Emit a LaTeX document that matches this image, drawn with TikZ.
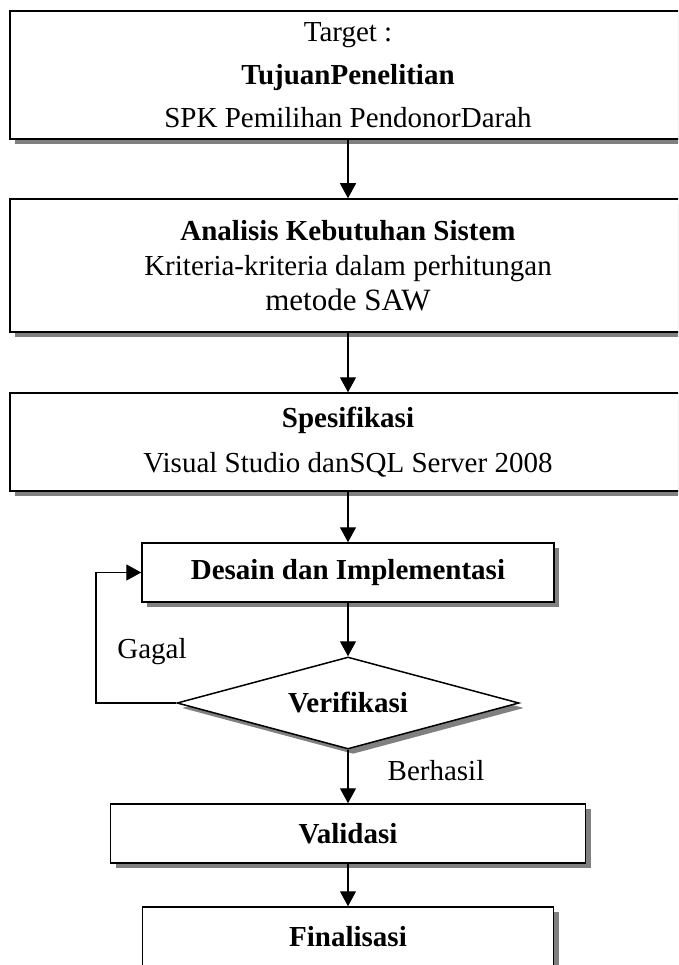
\documentclass[tikz,border=0pt]{standalone}
\usepackage{fontspec}
\setmainfont{Liberation Serif}
\usetikzlibrary{shapes.geometric,shadows,arrows.meta}
\begin{document}
\begin{tikzpicture}[x=1pt,y=-1pt,
  shadowed/.style={drop shadow={shadow xshift=5pt, shadow yshift=-5pt, fill=gray, opacity=1}},
  box/.style={draw=black, line width=1.5pt, fill=white, rectangle, inner sep=0pt, align=center, shadowed},
  arr/.style={line width=1.3pt, -{Triangle[length=15pt,width=16pt]}},
  lbl/.style={font=\fontsize{29}{35}\selectfont, inner sep=0pt, anchor=base}]
\useasboundingbox (0,0) rectangle (678,965);
\clip (0,0) rectangle (678,965);
\node[box, minimum width=676pt, minimum height=128pt, font=\fontsize{29}{43}\selectfont] (t) at (348,75)
  {Target :\\\textbf{TujuanPenelitian}\\SPK Pemilihan PendonorDarah};
\node[box, minimum width=676pt, minimum height=133pt, font=\fontsize{29}{35}\selectfont] (a) at (348,265.5)
  {\textbf{Analisis Kebutuhan Sistem}\\Kriteria-kriteria dalam perhitungan\\{\fontsize{31}{35}\selectfont metode SAW}};
\node[box, minimum width=676pt, minimum height=98pt, font=\fontsize{29}{45}\selectfont] (s) at (348,442)
  {\textbf{Spesifikasi}\\Visual Studio danSQL Server 2008};
\node[box, minimum width=412pt, minimum height=59pt, font=\fontsize{29}{35}\selectfont\bfseries] (ds) at (348,572.5)
  {Desain dan Implementasi};
\node[diamond, draw=black, line width=1.5pt, fill=white, shadowed, aspect=3.7, minimum width=342pt, minimum height=92pt, inner sep=0pt, font=\fontsize{29}{35}\selectfont\bfseries] (v) at (348,703)
  {Verifikasi};
\node[box, minimum width=475pt, minimum height=59pt, font=\fontsize{29}{35}\selectfont\bfseries] (val) at (348,833.5)
  {Validasi};
\node[box, minimum width=411pt, minimum height=59pt, font=\fontsize{29}{35}\selectfont\bfseries] (fin) at (348,936.5)
  {Finalisasi};
\coordinate (lp) at (96,703);
\draw[arr] (t.south) -- (a.north);
\draw[arr] (a.south) -- (s.north);
\draw[arr] (s.south) -- (ds.north);
\draw[arr] (ds.south) -- (v.north);
\draw[arr] (v.south) -- (val.north);
\draw[arr] (val.south) -- (fin.north);
\draw[arr] (v.west) -- (lp) |- (ds.west);
\node[lbl] (gagal) at (152,658) {Gagal};
\node[lbl] (berhasil) at (436,780) {Berhasil};
\end{tikzpicture}
\end{document}
